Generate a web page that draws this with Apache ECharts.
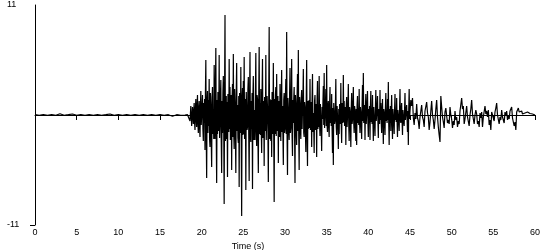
<!DOCTYPE html>
<html>
<head>
<meta charset="utf-8">
<script src="https://cdn.jsdelivr.net/npm/echarts@6/dist/echarts.min.js"></script>
<style>html,body{margin:0;padding:0;background:#fff}#c{width:550px;height:250px}</style>
</head>
<body>
<div id="c"></div>
<script>
// Pre-event noise, sampled every 0.5 s from t = 0
var preStart = 0, preStep = 0.5;
var preValues = [0.03,-0.03,0.03,-0.03,0.03,-0.03,0.12,-0.03,0.03,0.1,-0.03,0.03,-0.03,0.03,-0.03,0.03,-0.03,0.03,0.1,-0.03,0.03,-0.03,0.03,-0.03,0.03,-0.03,0.03,-0.03,0.03,-0.03,0.03,-0.03,0.03,-0.12,0.03,-0.03];
// Onset, sampled every 0.1 s from t = 18.0
var onsetStart = 18.0, onsetStep = 0.1;
var onsetValues = [0,0.03,-0.03,0.03,0,0.1,-0.6,0.9,-1.1,0.8];
// Strong motion, sampled every 0.05 s from t = 19.0 (one row per second)
var strongStart = 19.0, strongStep = 0.05;
var strongValues = [
  -0.9,0.4,1.2,-0.8,-1.5,0.6,1.6,-0.5,-1.2,1.1,2.0,-0.9,-1.8,0.7,1.4,-1.3,-2.2,0.8,2.4,-1.0,
  -1.2,0.9,2.0,-1.4,-2.6,1.2,-0.8,1.6,-3.5,2.1,5.5,-2.2,-6.3,1.4,2.4,-1.8,1.5,-1.1,3.6,-2.4,
  -3.2,2.2,1.1,-2.6,-5.2,1.8,2.8,-1.9,0.6,-2.4,5.0,1.2,-2.4,2.6,6.7,-2.1,-6.8,1.5,-1.9,2.3,
  2.5,-1.6,6.0,-2.3,-0.9,1.8,3.5,-2.7,-5.8,1.4,-1.8,2.2,3.9,-1.5,-8.9,2.4,10.0,-2.6,-1.2,1.9,
  -2.4,1.3,-6.2,2.1,0.8,-1.7,5.6,-1.4,2.8,-2.5,-1.2,2.0,-5.5,1.6,3.1,-2.2,6.1,-1.8,-3.4,2.6,
  1.3,-2.1,-5.8,2.4,5.2,-1.6,1.0,-2.3,-2.8,1.9,-7.2,2.2,0.6,-1.8,4.8,-2.6,-10.1,1.7,2.7,-2.0,
  3.4,-1.9,5.8,-2.4,-0.5,1.6,-7.5,2.3,2.1,-1.5,-1.2,2.6,3.8,-2.0,-6.6,1.8,6.3,-2.2,-2.7,1.4,
  -1.4,2.2,-7.4,1.9,3.9,-2.5,0.5,-1.7,-2.5,2.3,6.2,-1.6,-3.1,2.0,1.6,-2.4,-5.8,2.1,6.8,-1.9,
  1.2,-2.0,2.6,-1.5,-3.8,2.2,5.6,-2.3,-0.9,1.4,-5.1,1.8,2.0,-1.6,6.0,-2.5,-2.4,1.9,0.8,-1.7,
  -6.7,2.1,8.8,-2.4,1.6,-1.8,-2.6,1.5,-4.2,2.3,0.7,-1.9,5.2,-2.2,-8.7,1.6,-1.9,2.0,2.8,-2.1,
  4.1,-1.6,-0.5,1.9,-4.8,1.4,1.1,-2.2,3.1,-1.3,-2.6,1.8,4.5,-1.7,0.9,-2.0,-5.0,1.5,2.2,-1.8,
  -1.4,1.8,3.6,-1.9,8.3,-2.2,-6.0,1.7,0.6,-1.5,-2.5,2.0,4.7,-1.8,-1.3,1.6,5.6,-2.1,-4.1,1.5,
  -0.8,1.6,2.8,-1.7,-6.8,2.0,1.2,-1.4,-3.0,1.9,4.1,-1.6,6.5,-2.1,-5.5,1.8,1.2,-1.5,-2.4,1.7,
  2.5,-1.4,0.6,1.5,4.6,-1.8,-2.2,1.3,0.8,-1.6,-3.7,1.7,5.5,-1.9,-5.1,1.4,-1.4,1.2,1.5,-1.3,
  3.6,-1.5,-0.4,1.3,-3.2,1.6,4.1,-1.7,0.2,-1.2,-3.8,1.4,2.0,-1.5,-1.6,1.1,-4.2,1.6,3.4,-1.4,
  0.8,-1.2,3.9,-0.9,-2.1,1.1,1.2,-1.4,-3.6,0.8,-0.4,1.2,2.9,-1.0,4.2,-1.3,-1.3,1.0,2.6,-1.1,
  5.0,-1.1,-1.7,0.9,1.4,-1.2,-2.2,1.0,2.8,-0.8,0.6,-1.1,2.1,-1.4,-3.8,0.7,-5.0,1.2,1.3,-0.9,
  -0.6,1.0,3.6,-1.2,-2.0,0.9,0.7,-1.1,-3.4,0.6,-1.9,1.1,0.5,-0.9,3.2,-1.0,-2.8,1.2,0.3,-0.8,
  4.0,-0.7,1.4,-1.1,-0.9,0.8,-3.0,1.0,1.8,-1.2,-0.2,0.9,3.1,-1.0,-2.6,0.8,0.4,-1.1,-3.2,0.7,
  2.2,-0.9,-0.5,1.0,2.8,-0.8,-1.8,0.9,0.5,-1.1,-2.6,0.6,-3.0,1.0,1.9,-0.8,0.7,-1.0,2.6,-0.7,
  -1.8,0.8,0.3,-1.0,-2.4,0.9,3.0,-0.6,4.2,-0.8,-0.6,1.0,-2.5,0.7,2.1,-0.9,-0.9,1.1,2.4,-0.8,
  -2.2,0.6,-0.8,0.9,-2.5,0.8,2.4,-0.7,0.7,-0.9,2.0,-0.6,-2.6,0.8,0.6,-1.0,-2.1,0.7,2.5,-0.6,
  -0.5,0.8,1.9,-0.7,-2.3,0.6,0.4,-0.9,2.5,-0.5,1.2,-0.8,-1.8,0.7,1.6,-0.9,-2.9,0.6,0.3,-0.8,
  -2.0,0.7,2.2,-0.6,0.4,-0.8,1.6,-0.5,3.3,-0.9,-3.0,0.6,-0.8,0.9,-1.6,0.5,2.0,-0.7,-2.4,0.6,
  0.5,-0.7,-1.9,0.6,2.1,-0.5,0.3,-0.7,1.7,-0.6,-2.2,0.5,0.4,-0.6,-1.6,0.7,2.6,-0.5,-0.8,0.6,
  1.2,-0.6,-2.0,0.5,0.6,-0.7,-1.1,0.6,2.2,-0.5,-0.4,0.6,1.0,-0.5,-1.7,0.4,-3.0,0.6,2.6,-0.4
];
// Coda, sampled every 0.1 s from t = 45.0 (one row per second)
var codaStart = 45.0, codaStep = 0.1;
var codaValues = [
  0.4,1.5,0.9,1.7,-0.3,-1.0,0.2,-0.4,1.1,-0.3,
  -0.6,-1.4,-0.2,0.4,1.0,-0.2,-0.5,-1.2,0.4,0.2,
  1.3,0.2,-0.2,-1.5,-0.7,0.4,1.4,0.0,-0.5,-1.4,
  -0.5,0.6,1.5,-0.2,-1.2,-2.0,-2.7,1.9,0.8,-0.2,
  -0.7,-1.3,0.3,0.7,-0.1,-0.8,-0.5,-0.9,0.8,0.0,
  -0.4,-1.3,-0.6,-1.0,0.4,-0.5,-0.2,-1.2,-0.6,-0.9,
  0.4,0.2,1.7,0.6,0.9,-0.9,-0.4,-0.6,0.9,-0.2,
  -0.2,-1.1,0.0,0.6,1.5,0.1,0.3,-0.9,0.0,0.5,
  0.1,-0.9,-0.6,-1.2,0.2,-0.3,0.3,-1.2,-0.2,-0.4,
  0.9,0.1,0.4,-0.2,0.5,-1.0,-0.5,-1.5,0.3,0.1,
  0.5,-0.6,0.3,0.7,1.2,0.0,0.2,-0.9,-0.2,-0.5,
  0.5,-0.2,-0.1,-0.8,0.3,-0.1,0.4,-0.5,-0.1,-0.4,
  0.4,0.2,0.8,-0.3,-0.2,-1.1,-0.7,-1.5,0.3,0.5,
  0.7,0.3,0.5,0.1,0.4,0.1,0.3,0.2,0.2,0.2,
  0.1,0.3,0.2,0.25,0.15,0.2,0.1,0.1,0.05,0.05,
  0
];
var yTickLabels = [-11, 11];
var xMin = 0, xMax = 60, xStep = 5;

var data = [];
function addSegment(start, step, values) {
  values.forEach(function (v, i) { data.push([+(start + i * step).toFixed(3), v]); });
}
addSegment(preStart, preStep, preValues);
addSegment(onsetStart, onsetStep, onsetValues);
addSegment(strongStart, strongStep, strongValues);
addSegment(codaStart, codaStep, codaValues);

var font = 'Liberation Sans';
var chart = echarts.init(document.getElementById('c'), null, { renderer: 'canvas' });
chart.setOption({
  animation: false,
  backgroundColor: '#ffffff',
  grid: { left: 35, right: 15, top: 5, bottom: 25, containLabel: false, outerBoundsMode: 'none' },
  xAxis: {
    type: 'value', min: xMin, max: xMax, interval: xStep,
    name: 'Time (s)', nameLocation: 'middle', nameGap: 17,
    nameTextStyle: { color: '#000', fontFamily: font, fontSize: 9, padding: [0, 74, 0, 0] },
    axisLine: { show: true, lineStyle: { color: '#000', width: 1 } },
    axisTick: { show: true, length: 5, lineStyle: { color: '#000' } },
    axisLabel: { color: '#000', fontFamily: font, fontSize: 9, margin: 3 },
    splitLine: { show: false }
  },
  yAxis: {
    type: 'value', min: -11, max: 11,
    name: 'cm/s/s', nameLocation: 'middle', nameGap: 20,
    nameTextStyle: { color: '#000', fontFamily: font, fontSize: 9 },
    axisLine: { show: true, lineStyle: { color: '#000', width: 1 } },
    axisTick: { show: true, length: 5, customValues: [-11], lineStyle: { color: '#000' } },
    axisLabel: { color: '#000', fontFamily: font, fontSize: 9, customValues: yTickLabels, align: 'left', margin: 28 },
    splitLine: { show: false }
  },
  series: [{
    type: 'line', data: data, showSymbol: false, symbol: 'none', sampling: null,
    lineStyle: { color: '#000', width: 1.2 }, silent: true
  }]
});
</script>
</body>
</html>
